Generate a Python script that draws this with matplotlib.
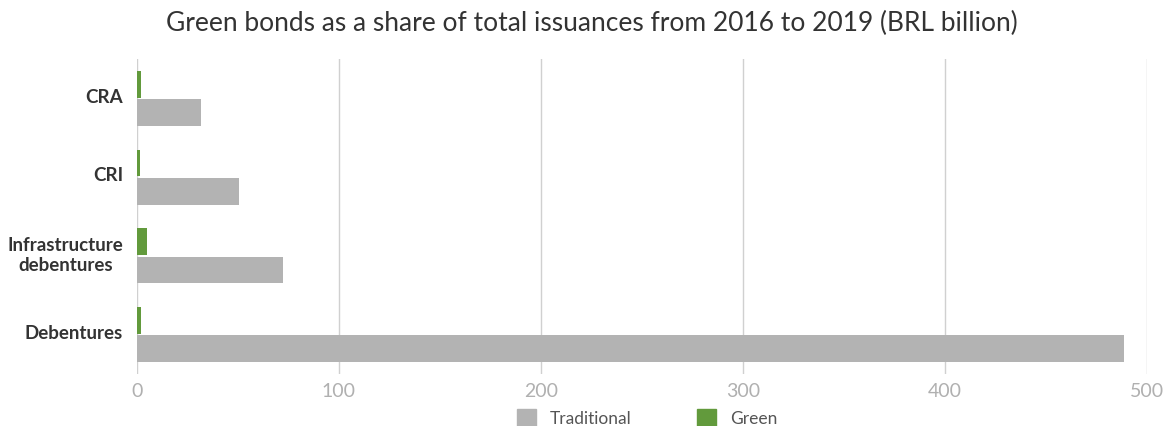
import matplotlib.pyplot as plt
import numpy as np
from matplotlib.patches import Patch

categories = ['CRA', 'CRI', 'Infrastructure\ndebentures', 'Debentures']
traditional = [31.7, 50.5, 72.3, 488.6]
green = [2.0, 1.3, 5.0, 2.0]

plt.rcParams['font.family'] = ['Lato', 'DejaVu Sans']

fig = plt.figure(figsize=(11.66, 4.27), dpi=100)
ax = fig.add_axes([0.1175, 0.122, 0.866, 0.737])

y = np.arange(len(categories))
h = 0.34
ax.barh(y - h / 2 - 0.01, green, height=h, color='#629a3c', zorder=3)
ax.barh(y + h / 2 + 0.01, traditional, height=h, color='#b3b3b3', zorder=3)

ax.set_xlim(0, 500)
ax.set_ylim(3.5, -0.5)
ax.set_xticks([0, 100, 200, 300, 400, 500])
ax.set_yticks(y - 0.05)
ax.set_yticklabels(categories, fontsize=13.5, fontweight='bold', color='#333333',
                   multialignment='center')
ax.tick_params(axis='y', length=0, pad=10)
ax.tick_params(axis='x', length=0, labelsize=14, labelcolor='#b0b0b0', pad=6)
ax.grid(axis='x', color='#d0d0d0', linewidth=1)
for s in ax.spines.values():
    s.set_visible(False)

fig.text(0.508, 0.945, 'Green bonds as a share of total issuances from 2016 to 2019 (BRL billion)',
         ha='center', va='center', fontsize=19, color='#333333')

handles = [Patch(color='#b3b3b3', label='Traditional'), Patch(color='#629a3c', label='Green')]
fig.legend(handles=handles, loc='center', bbox_to_anchor=(0.555, 0.02), ncol=2, frameon=False,
           fontsize=12.5, handlelength=1.1, handleheight=1.1, columnspacing=3.8,
           labelcolor='#555555', borderpad=0.1)

fig.savefig('out.png', dpi=100)
